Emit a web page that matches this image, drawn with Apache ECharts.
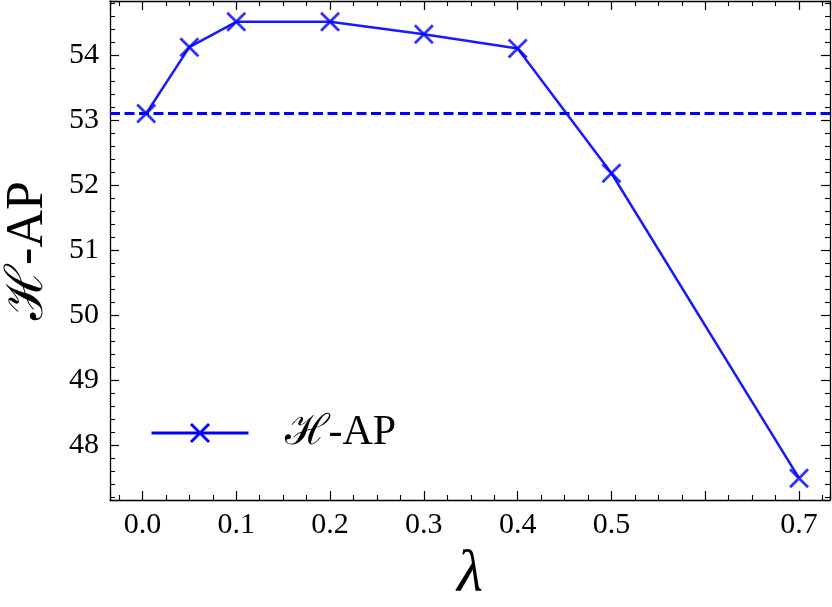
<!DOCTYPE html>
<html>
<head>
<meta charset="utf-8">
<script src="https://cdn.jsdelivr.net/npm/echarts@6/dist/echarts.min.js"></script>
<style>
  html, body { margin: 0; padding: 0; background: #fff; }
  #chart { width: 832px; height: 607px; }
</style>
</head>
<body>
<div id="chart"></div>
<script>
// ---- data ----
const lambdaValues = [0.004, 0.05, 0.1, 0.2, 0.3, 0.4, 0.5, 0.7];
const hapValues = [53.10, 54.12, 54.51, 54.51, 54.32, 54.10, 52.18, 47.49];
const baselineValue = 53.1;
const xTickLabels = ['0.0', '0.1', '0.2', '0.3', '0.4', '0.5', '0.7'];
const yTickLabels = ['48', '49', '50', '51', '52', '53', '54'];
const seriesName = 'ℋ-AP';
const xName = 'λ';
const yName = 'ℋ-AP';

const FONT = '"Liberation Serif", "DejaVu Serif", serif';
const crossPath = 'path://M0,1 L1,0 L10,9 L9,10 Z M9,0 L10,1 L1,10 L0,9 Z';

const xMin = -0.0346, xMax = 0.733;
const yMin = 47.154, yMax = 54.83;

const points = lambdaValues.map((x, i) => [x, hapValues[i]]);

const axisLineStyle = { color: '#000', width: 1.3 };
const tickCommon = { show: true, inside: true, length: 9, lineStyle: { color: '#000', width: 1.2 } };
const minorCommon = { show: true, length: 5, lineStyle: { color: '#000', width: 1.1 } };

const chart = echarts.init(document.getElementById('chart'), null, { renderer: 'canvas' });
chart.setOption({
  animation: false,
  backgroundColor: '#fff',
  grid: { left: 110, right: 2, top: 1, bottom: 107, containLabel: false, outerBoundsMode: 'none', show: false },
  legend: {
    show: true,
    left: 150,
    top: 411,
    padding: 0,
    itemWidth: 97,
    itemHeight: 25,
    itemStyle: { color: '#0000ff', opacity: 1 },
    lineStyle: { color: '#0000ff', width: 3, opacity: 1 },
    textStyle: { fontFamily: FONT, fontSize: 42, color: '#000', padding: [0, 0, 0, 31], lineHeight: 44 },
    data: [seriesName]
  },
  xAxis: [
    {
      type: 'value', min: xMin, max: xMax, splitNumber: 8, position: 'bottom',
      name: xName, nameLocation: 'middle', nameGap: 40,
      nameTextStyle: { fontFamily: FONT, fontSize: 60, fontStyle: 'italic', color: '#000', verticalAlign: 'top' },
      axisLine: { show: true, onZero: false, lineStyle: axisLineStyle },
      axisTick: tickCommon,
      minorTick: Object.assign({ splitNumber: 4 }, minorCommon),
      splitLine: { show: false }, minorSplitLine: { show: false },
      axisLabel: {
        show: true, margin: 10, showMinLabel: false, showMaxLabel: false,
        fontFamily: FONT, fontSize: 30, color: '#000',
        formatter: v => { const s = (Math.round(v * 10) / 10).toFixed(1); return (Math.abs(v * 10 - Math.round(v * 10)) < 1e-6 && xTickLabels.includes(s)) ? s : ''; }
      }
    },
    {
      type: 'value', min: xMin, max: xMax, splitNumber: 8, position: 'top',
      axisLine: { show: true, onZero: false, lineStyle: axisLineStyle },
      axisTick: tickCommon,
      minorTick: Object.assign({ splitNumber: 4 }, minorCommon),
      splitLine: { show: false }, minorSplitLine: { show: false },
      axisLabel: { show: false }
    }
  ],
  yAxis: [
    {
      type: 'value', min: yMin, max: yMax, splitNumber: 7, position: 'left',
      name: yName, nameLocation: 'middle', nameGap: 56,
      nameTextStyle: { fontFamily: FONT, fontSize: 52, color: '#000' },
      axisLine: { show: true, onZero: false, lineStyle: axisLineStyle },
      axisTick: tickCommon,
      minorTick: Object.assign({ splitNumber: 5 }, minorCommon),
      splitLine: { show: false }, minorSplitLine: { show: false },
      axisLabel: {
        show: true, margin: 11, showMinLabel: false, showMaxLabel: false,
        fontFamily: FONT, fontSize: 30, color: '#000',
        formatter: v => { const s = String(Math.round(v)); return (Math.abs(v - Math.round(v)) < 1e-6 && yTickLabels.includes(s)) ? s : ''; }
      }
    },
    {
      type: 'value', min: yMin, max: yMax, splitNumber: 7, position: 'right',
      axisLine: { show: true, onZero: false, lineStyle: axisLineStyle },
      axisTick: tickCommon,
      minorTick: Object.assign({ splitNumber: 5 }, minorCommon),
      splitLine: { show: false }, minorSplitLine: { show: false },
      axisLabel: { show: false }
    }
  ],
  series: [
    {
      name: seriesName,
      type: 'line',
      xAxisIndex: 0, yAxisIndex: 0,
      data: points,
      symbol: crossPath,
      symbolSize: 20,
      showAllSymbol: true,
      lineStyle: { color: '#0000ff', width: 2.5, opacity: 0.9 },
      itemStyle: { color: 'rgba(0,0,255,0.8)', borderWidth: 0 },
      emphasis: { disabled: true },
      markLine: {
        silent: true,
        symbol: ['none', 'none'],
        label: { show: false },
        lineStyle: { color: '#0000ff', width: 3, type: [10, 4.5], opacity: 1 },
        data: [{ yAxis: baselineValue }]
      },
      z: 3
    }
  ]
});
</script>
</body>
</html>
